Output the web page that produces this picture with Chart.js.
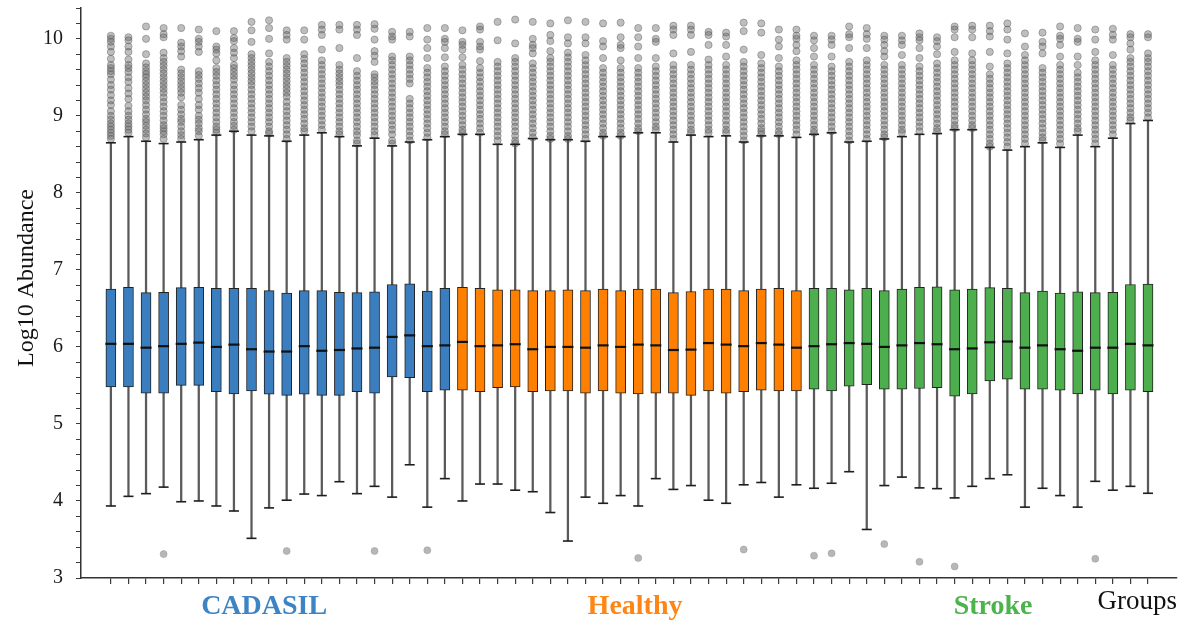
<!DOCTYPE html>
<html>
<head>
<meta charset="utf-8">
<title>Log10 Abundance by sample</title>
<script src="https://cdn.jsdelivr.net/npm/chart.js@4.4.1/dist/chart.umd.min.js"></script>
<style>
  html, body { margin: 0; padding: 0; background: #fff; }
  canvas { display: block; }
</style>
</head>
<body>
<canvas id="abundanceChart" width="1191" height="628"></canvas>
<script>
// 1. Data (60 samples, 20 per group)
const groupNames = ["CADASIL", "Healthy", "Stroke"];
const groupSizes = [20, 20, 20];
const groupLabelPos = [8.72, 29.82, 50.19]; // where the group names sit on the sample axis

const whiskerLow = [
  3.935, 4.06, 4.095, 4.18, 3.99, 4.0, 3.935, 3.87, 3.515, 3.91, 4.01, 4.09, 4.07, 4.25, 4.095, 4.19, 4.05, 4.47, 3.92, 4.29,
  4.0, 4.22, 4.22, 4.14, 4.12, 3.85, 3.48, 4.05, 3.97, 4.07, 3.935, 4.29, 4.15, 4.2, 4.01, 3.97, 4.21, 4.24, 4.05, 4.21,
  4.165, 4.23, 4.38, 3.63, 4.2, 4.31, 4.17, 4.16, 4.04, 4.19, 4.29, 4.34, 3.92, 4.165, 4.07, 3.92, 4.255, 4.14, 4.19, 4.1
];
const q1 = [
  5.48, 5.48, 5.4, 5.4, 5.5, 5.5, 5.42, 5.39, 5.43, 5.385, 5.37, 5.385, 5.37, 5.37, 5.42, 5.4, 5.61, 5.6, 5.42, 5.44,
  5.44, 5.42, 5.47, 5.48, 5.42, 5.43, 5.43, 5.4, 5.43, 5.4, 5.39, 5.4, 5.4, 5.37, 5.43, 5.4, 5.42, 5.44, 5.43, 5.43,
  5.45, 5.43, 5.49, 5.51, 5.45, 5.45, 5.46, 5.47, 5.36, 5.39, 5.56, 5.58, 5.45, 5.45, 5.44, 5.39, 5.44, 5.39, 5.44, 5.42
];
const median = [
  6.04, 6.04, 5.99, 6.01, 6.04, 6.056, 6.0, 6.03, 5.97, 5.94, 5.94, 6.01, 5.95, 5.96, 5.98, 5.99, 6.13, 6.15, 6.01, 6.02,
  6.065, 6.01, 6.02, 6.035, 5.97, 6.0, 6.0, 5.99, 6.02, 6.0, 6.03, 6.02, 5.96, 5.965, 6.05, 6.03, 6.01, 6.05, 6.03, 5.99,
  6.01, 6.035, 6.05, 6.04, 6.0, 6.02, 6.05, 6.035, 5.97, 5.98, 6.06, 6.07, 5.99, 6.02, 5.97, 5.95, 5.99, 5.99, 6.04, 6.02
];
const q3 = [
  6.75, 6.775, 6.705, 6.71, 6.77, 6.775, 6.76, 6.76, 6.76, 6.73, 6.7, 6.73, 6.73, 6.71, 6.705, 6.715, 6.81, 6.82, 6.725, 6.76,
  6.775, 6.76, 6.74, 6.74, 6.73, 6.73, 6.74, 6.73, 6.75, 6.73, 6.75, 6.75, 6.705, 6.72, 6.75, 6.75, 6.73, 6.75, 6.76, 6.73,
  6.76, 6.76, 6.74, 6.76, 6.73, 6.75, 6.775, 6.78, 6.74, 6.75, 6.77, 6.76, 6.705, 6.725, 6.7, 6.715, 6.705, 6.71, 6.81, 6.815
];
const whiskerHigh = [
  8.65, 8.73, 8.67, 8.64, 8.66, 8.69, 8.75, 8.8, 8.75, 8.74, 8.67, 8.75, 8.78, 8.73, 8.61, 8.71, 8.61, 8.66, 8.69, 8.73,
  8.76, 8.76, 8.63, 8.63, 8.705, 8.69, 8.69, 8.67, 8.73, 8.73, 8.78, 8.78, 8.66, 8.75, 8.73, 8.74, 8.66, 8.74, 8.74, 8.72,
  8.76, 8.78, 8.66, 8.67, 8.7, 8.73, 8.76, 8.77, 8.82, 8.82, 8.59, 8.555, 8.6, 8.65, 8.59, 8.75, 8.6, 8.71, 8.9, 8.94
];

// low outliers: sample index and value
const lowOutlierIdx = [3, 10, 15, 18, 30, 36, 40, 41, 44, 46, 48, 56];
const lowOutlierVal = [3.31, 3.35, 3.35, 3.36, 3.26, 3.37, 3.29, 3.32, 3.44, 3.21, 3.15, 3.25];

// high outliers, one list per sample
const highOutliers = [
  [10.04,10.0,9.96,9.9,9.83,9.74,9.66,9.62,9.58,9.54,9.47,9.4,9.34,9.27,9.2,9.14,9.06,9.0,8.95,8.9,8.86,8.82,8.78,8.74,8.7],
  [10.02,9.98,9.9,9.83,9.73,9.66,9.62,9.57,9.5,9.44,9.36,9.29,9.22,9.13,9.06,9.0,8.95,8.9,8.86,8.82,8.78],
  [10.16,10.0,9.8,9.68,9.63,9.58,9.54,9.5,9.45,9.4,9.35,9.3,9.25,9.2,9.14,9.08,9.02,8.96,8.92,8.87,8.82,8.77,8.72],
  [10.14,10.06,10.02,9.82,9.75,9.7,9.65,9.6,9.55,9.5,9.45,9.4,9.35,9.3,9.24,9.18,9.12,9.06,9.0,8.94,8.88,8.84,8.8,8.76,8.7],
  [10.14,9.95,9.9,9.84,9.77,9.6,9.55,9.5,9.45,9.4,9.35,9.3,9.24,9.14,9.08,9.02,8.96,8.92,8.86,8.8,8.75,8.7],
  [10.12,10.0,9.96,9.9,9.83,9.58,9.53,9.48,9.42,9.36,9.3,9.22,9.14,9.08,9.0,8.95,8.9,8.84,8.8,8.74],
  [10.1,9.9,9.86,9.81,9.72,9.62,9.57,9.52,9.46,9.4,9.34,9.28,9.22,9.16,9.1,9.04,8.98,8.92,8.86,8.82,8.78],
  [10.1,10.01,9.97,9.88,9.82,9.75,9.66,9.62,9.57,9.52,9.47,9.4,9.34,9.28,9.22,9.16,9.1,9.04,8.98,8.92,8.87,8.82],
  [10.22,10.11,9.96,9.8,9.75,9.7,9.65,9.6,9.55,9.5,9.45,9.4,9.34,9.28,9.22,9.16,9.1,9.04,8.98,8.92,8.86,8.8],
  [10.24,10.14,10.0,9.81,9.7,9.64,9.58,9.52,9.46,9.4,9.34,9.28,9.22,9.16,9.1,9.04,8.98,8.92,8.86,8.8,8.77],
  [10.11,10.05,9.99,9.75,9.7,9.65,9.6,9.55,9.5,9.45,9.4,9.35,9.3,9.25,9.18,9.12,9.06,9.0,8.94,8.88,8.82,8.76,8.7],
  [10.11,9.99,9.8,9.74,9.68,9.62,9.56,9.5,9.44,9.38,9.32,9.26,9.2,9.14,9.08,9.02,8.96,8.9,8.84,8.8],
  [10.18,10.12,10.05,9.86,9.72,9.66,9.6,9.54,9.48,9.42,9.36,9.3,9.24,9.18,9.12,9.06,9.0,8.94,8.88,8.82],
  [10.18,10.12,9.88,9.66,9.6,9.55,9.5,9.45,9.4,9.34,9.28,9.22,9.16,9.1,9.04,8.98,8.92,8.86,8.8,8.76],
  [10.18,10.12,10.05,9.75,9.58,9.52,9.46,9.4,9.34,9.28,9.22,9.16,9.1,9.04,8.98,8.92,8.86,8.8,8.75,8.68,8.64],
  [10.19,10.13,9.99,9.84,9.78,9.7,9.54,9.5,9.45,9.4,9.34,9.28,9.22,9.16,9.1,9.04,8.98,8.92,8.86,8.8,8.75],
  [10.09,10.03,9.99,9.77,9.72,9.66,9.6,9.54,9.48,9.42,9.36,9.3,9.24,9.18,9.12,9.06,9.0,8.94,8.88,8.82,8.76,8.68,8.64],
  [10.09,10.03,9.77,9.72,9.66,9.6,9.54,9.48,9.42,9.22,9.16,9.1,9.04,8.98,8.92,8.86,8.8,8.74,8.68],
  [10.14,9.99,9.88,9.75,9.62,9.56,9.5,9.44,9.38,9.32,9.26,9.2,9.14,9.08,9.02,8.96,8.9,8.84,8.78,8.72],
  [10.14,10.0,9.96,9.88,9.76,9.64,9.58,9.52,9.46,9.4,9.34,9.28,9.22,9.16,9.1,9.04,8.98,8.92,8.86,8.8,8.76],

  [10.11,9.96,9.92,9.86,9.76,9.66,9.6,9.54,9.48,9.42,9.36,9.3,9.24,9.18,9.12,9.06,9.0,8.94,8.88,8.82,8.78],
  [10.16,10.12,9.96,9.9,9.86,9.71,9.62,9.56,9.5,9.44,9.38,9.32,9.26,9.2,9.14,9.08,9.02,8.96,8.9,8.84,8.78],
  [10.22,9.98,9.7,9.64,9.58,9.52,9.46,9.4,9.34,9.28,9.22,9.16,9.1,9.04,8.98,8.92,8.86,8.8,8.74,8.68],
  [10.25,9.94,9.75,9.7,9.64,9.58,9.52,9.46,9.4,9.34,9.28,9.22,9.16,9.1,9.04,8.98,8.92,8.86,8.8,8.74,8.68,8.64],
  [10.22,10.0,9.92,9.88,9.81,9.68,9.62,9.56,9.5,9.44,9.38,9.32,9.26,9.2,9.14,9.08,9.02,8.96,8.9,8.84,8.78,8.72],
  [10.2,10.05,9.97,9.84,9.75,9.7,9.64,9.58,9.52,9.46,9.4,9.34,9.28,9.22,9.16,9.1,9.04,8.98,8.92,8.86,8.8,8.74,8.7],
  [10.24,10.02,9.94,9.82,9.76,9.7,9.64,9.58,9.52,9.46,9.4,9.34,9.28,9.22,9.16,9.1,9.04,8.98,8.92,8.86,8.8,8.74,8.7],
  [10.22,10.02,9.94,9.79,9.72,9.66,9.6,9.54,9.48,9.42,9.36,9.3,9.24,9.18,9.12,9.06,9.0,8.94,8.88,8.82,8.76,8.7],
  [10.2,9.97,9.9,9.75,9.62,9.56,9.5,9.44,9.38,9.32,9.26,9.2,9.14,9.08,9.02,8.96,8.9,8.84,8.78,8.74],
  [10.21,10.02,9.92,9.88,9.72,9.62,9.56,9.5,9.44,9.38,9.32,9.26,9.2,9.14,9.08,9.02,8.96,8.9,8.84,8.78,8.74],
  [10.14,10.02,9.9,9.75,9.62,9.56,9.5,9.44,9.38,9.32,9.26,9.2,9.14,9.08,9.02,8.96,8.9,8.84,8.8],
  [10.14,10.0,9.96,9.75,9.64,9.58,9.52,9.46,9.4,9.34,9.28,9.22,9.16,9.1,9.04,8.98,8.92,8.86,8.82],
  [10.17,10.12,10.05,9.81,9.66,9.6,9.54,9.48,9.42,9.36,9.3,9.24,9.18,9.12,9.06,9.0,8.94,8.88,8.82,8.76,8.7],
  [10.17,10.12,10.05,9.83,9.66,9.6,9.54,9.48,9.42,9.36,9.3,9.24,9.18,9.12,9.06,9.0,8.94,8.88,8.82,8.78],
  [10.09,10.05,9.92,9.73,9.66,9.6,9.54,9.48,9.42,9.36,9.3,9.24,9.18,9.12,9.06,9.0,8.94,8.88,8.82,8.78],
  [10.08,10.03,9.92,9.77,9.66,9.6,9.54,9.48,9.42,9.36,9.3,9.24,9.18,9.12,9.06,9.0,8.94,8.88,8.82,8.78],
  [10.21,10.1,9.86,9.7,9.64,9.58,9.52,9.46,9.4,9.34,9.28,9.22,9.16,9.1,9.04,8.98,8.92,8.86,8.8,8.74,8.68],
  [10.2,10.08,9.79,9.68,9.62,9.56,9.5,9.44,9.38,9.32,9.26,9.2,9.14,9.08,9.02,8.96,8.9,8.84,8.8,8.76],
  [10.12,9.99,9.9,9.75,9.64,9.58,9.52,9.46,9.4,9.34,9.28,9.22,9.16,9.1,9.04,8.98,8.92,8.86,8.8,8.76],
  [10.12,10.04,10.0,9.92,9.84,9.72,9.66,9.6,9.54,9.48,9.42,9.36,9.3,9.24,9.18,9.12,9.06,9.0,8.94,8.88,8.82,8.76],

  [10.04,9.98,9.88,9.77,9.66,9.6,9.54,9.48,9.42,9.36,9.3,9.24,9.18,9.12,9.06,9.0,8.94,8.88,8.82,8.78],
  [10.04,9.99,9.92,9.77,9.64,9.58,9.52,9.46,9.4,9.34,9.28,9.22,9.16,9.1,9.04,8.98,8.92,8.86,8.8],
  [10.16,10.06,10.02,9.88,9.7,9.64,9.58,9.52,9.46,9.4,9.34,9.28,9.22,9.16,9.1,9.04,8.98,8.92,8.86,8.8,8.74,8.68],
  [10.14,10.06,10.0,9.88,9.72,9.66,9.6,9.54,9.48,9.42,9.36,9.3,9.24,9.18,9.12,9.06,9.0,8.94,8.88,8.82,8.76,8.7],
  [10.04,9.99,9.92,9.84,9.77,9.66,9.6,9.54,9.48,9.42,9.36,9.3,9.24,9.18,9.12,9.06,9.0,8.94,8.88,8.82,8.76,8.72],
  [10.04,9.98,9.92,9.79,9.66,9.6,9.54,9.48,9.42,9.36,9.3,9.24,9.18,9.12,9.06,9.0,8.94,8.88,8.82,8.78],
  [10.07,10.02,9.98,9.88,9.75,9.64,9.58,9.52,9.46,9.4,9.34,9.28,9.22,9.16,9.1,9.04,8.98,8.92,8.86,8.8],
  [10.02,9.97,9.9,9.8,9.68,9.62,9.56,9.5,9.44,9.38,9.32,9.26,9.2,9.14,9.08,9.02,8.96,8.9,8.84,8.8],
  [10.16,10.12,10.02,9.83,9.72,9.66,9.6,9.54,9.48,9.42,9.36,9.3,9.24,9.18,9.12,9.06,9.0,8.94,8.88,8.84],
  [10.17,10.12,10.02,9.81,9.72,9.66,9.6,9.54,9.48,9.42,9.36,9.3,9.24,9.18,9.12,9.06,9.0,8.94,8.88,8.84],
  [10.17,10.1,10.03,9.83,9.64,9.54,9.48,9.42,9.36,9.3,9.24,9.18,9.12,9.06,9.0,8.94,8.88,8.82,8.76,8.7,8.64,8.6],
  [10.2,10.12,9.99,9.81,9.68,9.62,9.56,9.5,9.44,9.38,9.32,9.26,9.2,9.14,9.08,9.02,8.96,8.9,8.84,8.78,8.72,8.66,8.6],
  [10.07,9.9,9.79,9.72,9.66,9.6,9.54,9.48,9.42,9.36,9.3,9.24,9.18,9.12,9.06,9.0,8.94,8.88,8.82,8.76,8.7,8.64],
  [10.08,9.96,9.9,9.81,9.62,9.56,9.5,9.44,9.38,9.32,9.26,9.2,9.14,9.08,9.02,8.96,8.9,8.84,8.78,8.72,8.68],
  [10.16,10.04,10.0,9.92,9.77,9.66,9.6,9.54,9.48,9.42,9.36,9.3,9.24,9.18,9.12,9.06,9.0,8.94,8.88,8.82,8.76,8.7,8.64],
  [10.14,10.0,9.96,9.77,9.66,9.56,9.5,9.44,9.38,9.32,9.26,9.2,9.14,9.08,9.02,8.96,8.9,8.84,8.8],
  [10.12,9.99,9.83,9.72,9.66,9.6,9.54,9.48,9.42,9.36,9.3,9.24,9.18,9.12,9.06,9.0,8.94,8.88,8.82,8.76,8.7,8.64],
  [10.13,10.05,9.99,9.79,9.66,9.6,9.54,9.48,9.42,9.36,9.3,9.24,9.18,9.12,9.06,9.0,8.94,8.88,8.82,8.76],
  [10.06,10.02,9.94,9.86,9.75,9.7,9.64,9.58,9.52,9.46,9.4,9.34,9.28,9.22,9.16,9.1,9.04,8.98,8.94],
  [10.06,10.02,9.81,9.75,9.7,9.64,9.58,9.52,9.46,9.4,9.34,9.28,9.22,9.16,9.1,9.04,8.98]
];

// axis limits and tick spacing
const xMin = -1.7;
const xMax = 60.65;
const yMin = 3;
const yMax = 10.4;
const yTickStep = 0.2;

// 2. Styles
const boxColors = ["#3a7ebf", "#ff8000", "#4cae4c"];
const groupLabelColors = ["#3d84c4", "#ff8514", "#4db34d"];
const serif = "'Liberation Serif', 'Times New Roman', serif";

// 3. Build the datasets
const sampleIdx = q1.map((_, i) => i);

let groupStart = 0;
const boxSets = groupNames.map((name, g) => {
  const pts = [];
  for (let i = groupStart; i < groupStart + groupSizes[g]; i++) {
    pts.push({ x: i, y: [q1[i], q3[i]] });
  }
  groupStart += groupSizes[g];
  return {
    type: "bar",
    label: name,
    data: pts,
    backgroundColor: boxColors[g],
    borderColor: "#222",
    borderWidth: 1,
    borderSkipped: false,
    barThickness: 10,
    grouped: false,
    xAxisID: "x",
    yAxisID: "y",
    order: 1
  };
});

const whiskerSet = {
  type: "bar",
  label: "whiskers",
  data: sampleIdx.map(i => ({ x: i, y: [whiskerLow[i], whiskerHigh[i]] })),
  backgroundColor: "#5a5a5a",
  borderWidth: 0,
  barThickness: 1.6,
  grouped: false,
  xAxisID: "x",
  yAxisID: "y",
  order: 3
};

const capSet = {
  type: "scatter",
  label: "caps",
  data: sampleIdx.map(i => ({ x: i, y: whiskerLow[i] }))
    .concat(sampleIdx.map(i => ({ x: i, y: whiskerHigh[i] }))),
  pointStyle: "line",
  pointRadius: 5,
  borderColor: "#1e1e1e",
  borderWidth: 1.6,
  xAxisID: "x",
  yAxisID: "y",
  order: 2
};

const medianSet = {
  type: "scatter",
  label: "median",
  data: sampleIdx.map(i => ({ x: i, y: median[i] })),
  pointStyle: "line",
  pointRadius: 5.5,
  borderColor: "#111",
  borderWidth: 2.2,
  xAxisID: "x",
  yAxisID: "y",
  order: 0
};

const highPts = [];
highOutliers.forEach((list, i) => {
  list.forEach(v => highPts.push({ x: i, y: v }));
});

const highSet = {
  type: "scatter",
  label: "outliers",
  data: highPts,
  pointStyle: "circle",
  pointRadius: 3.6,
  backgroundColor: "rgba(100,100,100,0.42)",
  borderColor: "rgba(80,80,80,0.5)",
  borderWidth: 0.8,
  xAxisID: "x",
  yAxisID: "y",
  order: 4
};

const lowSet = {
  type: "scatter",
  label: "low outliers",
  data: lowOutlierIdx.map((i, k) => ({ x: i, y: lowOutlierVal[k] })),
  pointStyle: "circle",
  pointRadius: 3.5,
  backgroundColor: "rgba(165,165,165,0.8)",
  borderColor: "rgba(150,150,150,0.8)",
  borderWidth: 0.6,
  xAxisID: "x",
  yAxisID: "y",
  order: 4
};

// 4. Chart
const yTickValues = [];
for (let v = yMin; v <= yMax + 1e-9; v += yTickStep) yTickValues.push(+v.toFixed(1));

const ctx = document.getElementById("abundanceChart").getContext("2d");
new Chart(ctx, {
  type: "bar",
  data: { datasets: [medianSet, ...boxSets, capSet, whiskerSet, highSet, lowSet] },
  options: {
    responsive: false,
    animation: false,
    events: [],
    layout: { padding: { top: 8, right: 14, left: 0, bottom: 0 } },
    plugins: {
      legend: { display: false },
      tooltip: { enabled: false }
    },
    scales: {
      x: {
        type: "linear",
        position: "bottom",
        min: xMin,
        max: xMax,
        offset: false,
        weight: 0,
        grid: { display: true, offset: false, drawOnChartArea: false, tickLength: 6, color: "#3a3a3a", lineWidth: 1.2 },
        border: { display: true, color: "#333", width: 1.5 },
        ticks: { autoSkip: false, maxRotation: 0, padding: 0, callback: () => "" },
        afterBuildTicks: axis => { axis.ticks = sampleIdx.map(v => ({ value: v })); },
        afterFit: axis => { axis.height = 8; axis.paddingLeft = 0; axis.paddingRight = 0; }
      },
      xGroups: {
        type: "linear",
        axis: "x",
        position: "bottom",
        min: xMin,
        max: xMax,
        offset: false,
        weight: 1,
        grid: { display: false, drawTicks: false, offset: false },
        border: { display: false },
        ticks: {
          autoSkip: false,
          maxRotation: 0,
          padding: 4,
          color: c => groupLabelColors[c.index],
          font: { family: serif, size: 28, weight: "bold" },
          callback: (v, i) => groupNames[i]
        },
        afterBuildTicks: axis => { axis.ticks = groupLabelPos.map(v => ({ value: v })); },
        afterFit: axis => { axis.height = 42; axis.paddingLeft = 0; axis.paddingRight = 0; },
        title: {
          display: true,
          text: "Groups",
          align: "end",
          color: "#111",
          font: { family: serif, size: 27 },
          padding: { top: 0, bottom: 10 }
        }
      },
      y: {
        type: "linear",
        min: yMin,
        max: yMax,
        beginAtZero: false,
        grid: { display: true, drawOnChartArea: false, tickLength: 5, color: "#3a3a3a" },
        border: { display: true, color: "#333", width: 1.5 },
        ticks: {
          autoSkip: false,
          padding: 13,
          color: "#1a1a1a",
          font: { family: serif, size: 20 },
          callback: v => (Math.abs(v - Math.round(v)) < 1e-6 ? String(Math.round(v)) : "")
        },
        afterBuildTicks: axis => { axis.ticks = yTickValues.map(v => ({ value: v })); },
        afterFit: axis => { axis.width = 81; axis.paddingTop = 0; axis.paddingBottom = 0; },
        title: {
          display: true,
          // leading spaces lift the visible words a little above the axis middle, as in the figure
          text: "     Log10 Abundance",
          color: "#111",
          font: { family: serif, size: 24 },
          padding: { top: 12, bottom: 0 }
        }
      }
    }
  }
});
</script>
</body>
</html>
